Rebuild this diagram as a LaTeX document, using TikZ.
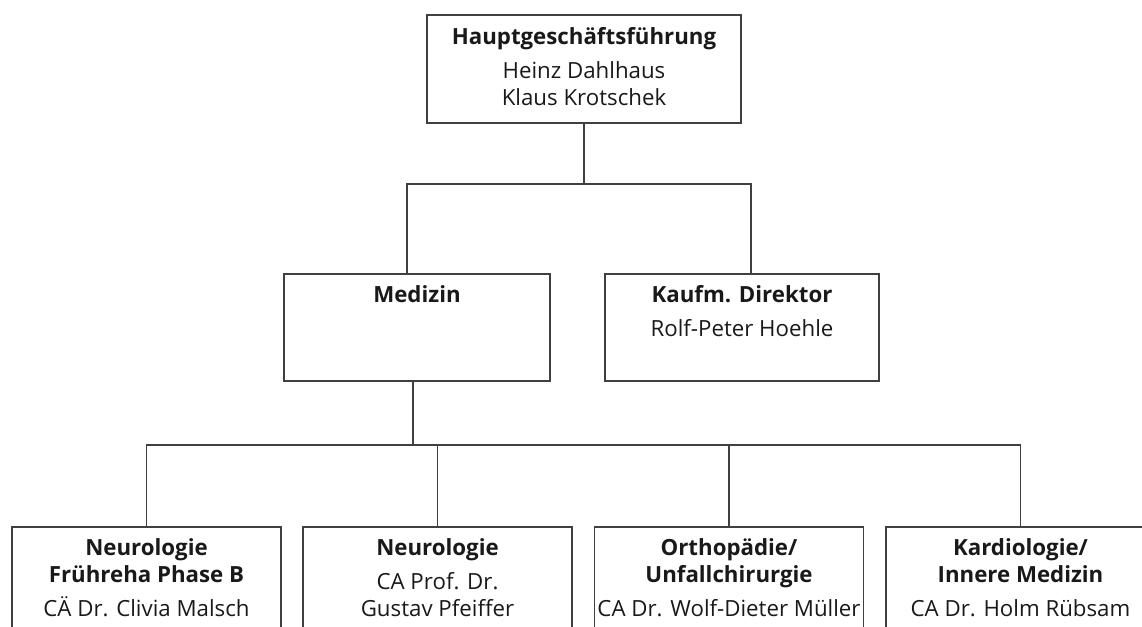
\documentclass[tikz,border=0pt]{standalone}
\usepackage{fontspec}
\setmainfont{Open Sans}
\tikzset{every picture/.style={line width=0.9pt}}
\tikzset{
  orgbox/.style={draw=black!75, rectangle, inner sep=0pt},
  orgline/.style={draw=black!75},
  orgtext/.style={anchor=north, align=center, inner sep=0pt, text=black!90, font=\fontsize{16.7}{20.3}\selectfont},
}

\begin{document}
\begin{tikzpicture}[x=0.75pt,y=0.75pt,yscale=-1,xscale=1]
%set diagram left start at 0, and has height of 627
\useasboundingbox (0,0) rectangle (1142,627);
\clip (0,0) rectangle (1142,627);

% Boxes
\node[orgbox, minimum width=235.5pt, minimum height=81pt] (hgf) at (584,69) {};
\node[orgbox, minimum width=199.5pt, minimum height=80.25pt] (med) at (417,327.5) {};
\node[orgbox, minimum width=205.5pt, minimum height=80.25pt] (kfm) at (742,327.5) {};
\node[orgbox, minimum width=201.75pt, minimum height=114.75pt] (nfr) at (146.5,603.5) {};
\node[orgbox, minimum width=201.75pt, minimum height=114.75pt] (neu) at (437.5,603.5) {};
\node[orgbox, minimum width=201.75pt, minimum height=114.75pt] (ort) at (729,603.5) {};
\node[orgbox, minimum width=201.75pt, minimum height=114.75pt] (kar) at (1020.5,603.5) {};

% Joints
\coordinate (topjoin) at (584,184);
\coordinate (medin) at (407,274);
\coordinate (kfmin) at (751,274);
\coordinate (medout) at (413,381);
\coordinate (botjoin) at (413,445);

%Straight Lines
\draw[orgline] (hgf.south) -- (topjoin);
\draw[orgline] (medin) |- (topjoin) -| (kfmin);
\draw[orgline] (medout) -- (botjoin);
\draw[orgline] (nfr.north) |- (botjoin) -| (kar.north);
\draw[orgline] (neu.north) -- (neu.north |- botjoin);
\draw[orgline] (ort.north) -- (ort.north |- botjoin);

% Text Node
\node[orgtext] (hgftxt) at (584,27) {\textbf{Hauptgeschäftsführung}\\[5pt] Heinz Dahlhaus\\ Klaus Krotschek};
% Text Node
\node[orgtext] (medtxt) at (417,285) {\textbf{Medizin}};
% Text Node
\node[orgtext] (kfmtxt) at (742,285) {\textbf{Kaufm. Direktor}\\[5pt] Rolf-Peter Hoehle};
% Text Node
\node[orgtext] (nfrtxt) at (146.5,538) {\textbf{Neurologie}\\ \textbf{Frühreha Phase B}\\[5pt] CÄ Dr. Clivia Malsch};
% Text Node
\node[orgtext] (neutxt) at (437.5,538) {\textbf{Neurologie}\\[5pt] CA Prof. Dr.\\ Gustav Pfeiffer};
% Text Node
\node[orgtext] (orttxt) at (729,538) {\textbf{Orthopädie/}\\ \textbf{Unfallchirurgie}\\[5pt] CA Dr. Wolf-Dieter Müller};
% Text Node
\node[orgtext] (kartxt) at (1020.5,538) {\textbf{Kardiologie/}\\ \textbf{Innere Medizin}\\[5pt] CA Dr. Holm Rübsam};

\end{tikzpicture}
\end{document}
